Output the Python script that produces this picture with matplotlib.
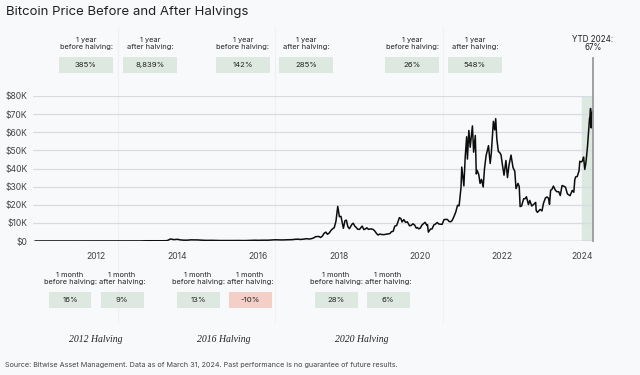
import numpy as np
import pandas as pd
import matplotlib
matplotlib.use("Agg")
import matplotlib.pyplot as plt
import matplotlib.dates as mdates
from matplotlib.patches import Rectangle

# ---- data (BTC price, USD) ----
early_dates = pd.date_range("2010-07-01", "2016-12-01", freq="MS")
early_prices = [
    0.07, 0.06, 0.06, 0.19, 0.21, 0.30,
    0.5, 0.9, 0.8, 3.5, 8.7, 16.1, 13.4, 8.2, 5.1, 3.2, 3.0, 4.7,
    5.5, 4.9, 4.9, 5.0, 5.2, 6.7, 9.0, 10.2, 12.4, 11.2, 12.6, 13.5,
    20, 33, 93, 139, 129, 97, 106, 135, 133, 204, 1130, 754,
    938, 580, 457, 448, 630, 640, 589, 478, 387, 338, 378, 320,
    217, 254, 244, 236, 230, 263, 284, 230, 236, 314, 377, 430,
    369, 437, 416, 448, 531, 673, 624, 575, 609, 700, 742, 964,
]

late_dates = [
    "2017-01-01", "2017-01-15", "2017-02-01", "2017-02-15", "2017-03-01", "2017-03-15",
    "2017-04-01", "2017-04-15", "2017-05-01", "2017-05-15", "2017-06-01", "2017-06-15",
    "2017-07-01", "2017-07-15", "2017-08-01", "2017-08-15", "2017-09-01", "2017-09-15",
    "2017-10-01", "2017-10-15", "2017-11-01", "2017-11-15", "2017-12-01", "2017-12-17",
    "2018-01-01", "2018-01-15", "2018-02-06", "2018-02-20", "2018-03-05", "2018-03-18",
    "2018-04-01", "2018-04-25", "2018-05-05", "2018-05-20", "2018-06-01", "2018-06-15",
    "2018-07-01", "2018-07-25", "2018-08-10", "2018-08-25", "2018-09-05", "2018-09-20",
    "2018-10-01", "2018-10-15", "2018-11-01", "2018-11-15", "2018-12-01", "2018-12-15",
    "2019-01-01", "2019-01-15", "2019-02-01", "2019-02-15", "2019-03-01", "2019-03-15",
    "2019-04-01", "2019-04-15", "2019-05-01", "2019-05-15", "2019-06-01", "2019-06-26",
    "2019-07-10", "2019-07-20", "2019-08-05", "2019-08-20", "2019-09-05", "2019-09-25",
    "2019-10-10", "2019-10-26", "2019-11-10", "2019-11-25", "2019-12-05", "2019-12-18",
    "2020-01-01", "2020-01-15", "2020-02-12", "2020-02-28", "2020-03-05", "2020-03-13",
    "2020-04-01", "2020-04-15", "2020-05-01", "2020-05-15", "2020-06-01", "2020-06-15",
    "2020-07-01", "2020-07-15", "2020-08-01", "2020-08-15", "2020-09-01", "2020-09-15",
    "2020-10-01", "2020-10-15", "2020-11-01", "2020-11-15", "2020-12-01", "2020-12-15",
    "2021-01-01", "2021-01-08", "2021-01-15", "2021-01-27", "2021-02-08", "2021-02-21",
    "2021-02-28", "2021-03-13", "2021-03-25", "2021-04-14", "2021-04-25", "2021-05-10",
    "2021-05-19", "2021-05-26", "2021-06-10", "2021-06-22", "2021-07-05", "2021-07-20",
    "2021-08-01", "2021-08-15", "2021-09-06", "2021-09-21", "2021-10-01", "2021-10-20",
    "2021-11-01", "2021-11-10", "2021-11-20", "2021-12-04", "2021-12-15", "2021-12-28",
    "2022-01-10", "2022-01-24", "2022-02-10", "2022-02-24", "2022-03-10", "2022-03-28",
    "2022-04-15", "2022-05-01", "2022-05-12", "2022-05-30", "2022-06-10", "2022-06-18",
    "2022-07-01", "2022-07-20", "2022-08-01", "2022-08-14", "2022-09-01", "2022-09-13",
    "2022-10-01", "2022-10-29", "2022-11-05", "2022-11-10", "2022-11-21", "2022-12-15",
    "2023-01-01", "2023-01-15", "2023-02-01", "2023-02-15", "2023-03-01", "2023-03-10",
    "2023-03-20", "2023-04-01", "2023-04-14", "2023-05-01", "2023-05-15", "2023-06-01",
    "2023-06-15", "2023-07-01", "2023-07-15", "2023-08-01", "2023-08-18", "2023-09-11",
    "2023-10-01", "2023-10-15", "2023-10-24", "2023-11-01", "2023-11-15", "2023-12-01",
    "2023-12-08", "2023-12-20", "2024-01-01", "2024-01-11", "2024-01-22", "2024-02-01",
    "2024-02-15", "2024-02-28", "2024-03-05", "2024-03-08", "2024-03-14", "2024-03-20",
    "2024-03-25", "2024-03-31",
]
late_prices = [
    1000, 820, 990, 1010, 1220, 1250,
    1080, 1180, 1420, 1750, 2400, 2450,
    2500, 1930, 2730, 4200, 4900, 3700,
    4400, 5700, 6750, 7300, 10900, 19100,
    13400, 13600, 7000, 11200, 11500, 7900,
    6800, 9300, 9800, 8200, 7500, 6500,
    6400, 8200, 6300, 6700, 7300, 6400,
    6600, 6700, 6350, 5600, 4200, 3300,
    3850, 3600, 3500, 3600, 3800, 3900,
    4100, 5100, 5350, 8200, 8550, 12900,
    12300, 10500, 11800, 10300, 10600, 8400,
    8600, 9500, 8800, 7100, 7400, 6700,
    7200, 8800, 10300, 8700, 9000, 4900,
    6600, 6650, 8850, 9300, 10200, 9400,
    9230, 9200, 11800, 11900, 11900, 10800,
    10600, 11500, 13800, 16000, 19700, 19400,
    29400, 40800, 36800, 30400, 46300, 57500,
    45200, 61000, 51700, 63500, 49000, 58200,
    37000, 39000, 36700, 31800, 34000, 29800,
    39900, 47000, 52600, 42800, 48200, 66000,
    61300, 67500, 56300, 49300, 48900, 47500,
    41800, 36300, 44400, 35000, 41900, 47400,
    40500, 38500, 28900, 31800, 30000, 19000,
    19300, 23300, 23300, 24400, 20100, 22400,
    19300, 20800, 21300, 16800, 15800, 17400,
    16600, 20900, 23700, 24300, 23600, 20200,
    28000, 28500, 30300, 28100, 27200, 27200,
    25100, 30600, 30300, 29700, 26000, 25000,
    27900, 26900, 33900, 35400, 35600, 38700,
    44000, 43600, 44200, 46300, 39500, 43100,
    51800, 62400, 67800, 68300, 73100, 62400,
    70000, 71300,
]

dates = list(early_dates) + list(pd.to_datetime(late_dates))
prices = np.array(early_prices + late_prices, dtype=float)

y_ticks = [0, 10000, 20000, 30000, 40000, 50000, 60000, 70000, 80000]
y_labels = ["$0", "$10K", "$20K", "$30K", "$40K", "$50K", "$60K", "$70K", "$80K"]

year_vals = ["385%", "8,839%", "142%", "285%", "26%", "548%"]
year_heads = ["1 year\nbefore halving:", "1 year\nafter halving:"] * 3
month_vals = ["16%", "9%", "13%", "-10%", "28%", "6%"]
month_heads = ["1 month\nbefore halving:", "1 month\nafter halving:"] * 3
halvings = ["2012 Halving", "2016 Halving", "2020 Halving"]

W, H = 640, 375
BG = "#f8f9fb"
GREEN = "#dde8e1"
RED = "#f3cfc7"
TXT = "#222222"
SANS = ["Inter", "DejaVu Sans"]


def fx(x):
    return x / W


def fy(y):
    return 1 - y / H


fig = plt.figure(figsize=(6.4, 3.75), dpi=100, facecolor=BG)

# faint separators behind everything
for sx in [118, 275, 443]:
    fig.add_artist(plt.Line2D([fx(sx), fx(sx)], [fy(28), fy(322)], color="#eef0f2", lw=0.8, zorder=0))

ax = fig.add_axes([fx(33), fy(241), fx(593) - fx(33), fy(96) - fy(241)])
ax.set_facecolor("none")

ax.axvspan(pd.Timestamp("2024-01-01"), pd.Timestamp("2024-03-31"), color="#dde8e1", zorder=1)
ax.plot(dates, prices, color="#0d0d0d", lw=1.1, zorder=3)

ax.set_xlim(pd.Timestamp("2010-06-10"), pd.Timestamp("2024-04-05"))
ax.set_ylim(0, 80000)
ax.set_yticks(y_ticks)
ax.set_yticklabels(y_labels)
ax.xaxis.set_major_locator(mdates.YearLocator(2))
ax.xaxis.set_major_formatter(mdates.DateFormatter("%Y"))
ax.grid(axis="y", color="#d8dbe0", lw=0.9, zorder=0)
ax.axhline(0, color="#b8bcc2", lw=1.0, zorder=2)
for s in ax.spines.values():
    s.set_visible(False)
ax.tick_params(length=0, labelsize=6.2, labelcolor="#444444", pad=4)
ax.tick_params(axis="x", pad=8)
for lab in ax.get_xticklabels() + ax.get_yticklabels():
    lab.set_family(SANS)

# YTD marker line sticking out above the plot
fig.add_artist(plt.Line2D([fx(593), fx(593)], [fy(58), fy(241)], color="#9a9a9a", lw=1.3, zorder=5))
fig.text(fx(593), fy(39), "YTD 2024:", ha="center", va="center", fontsize=5.8, color=TXT, family=SANS)
fig.text(fx(593), fy(48), "67%", ha="center", va="center", fontsize=5.8, color=TXT, family=SANS)

fig.text(fx(6), fy(12), "Bitcoin Price Before and After Halvings", ha="left", va="center",
         fontsize=9.5, color=TXT, family=SANS)


def box_row(centers, heads, vals, head_y, top, bot, bw, colors):
    for cx, hd, v, c in zip(centers, heads, vals, colors):
        fig.add_artist(Rectangle((fx(cx - bw / 2), fy(bot)), fx(bw), fy(top) - fy(bot),
                                 facecolor=c, edgecolor="none", transform=fig.transFigure))
        fig.text(fx(cx), fy(head_y), hd, ha="center", va="center", fontsize=5.3,
                 color=TXT, family=SANS, linespacing=1.25)
        fig.text(fx(cx), fy((top + bot) / 2), v, ha="center", va="center", fontsize=5.6,
                 color=TXT, family=SANS)


box_row([86, 150, 243, 306, 412, 475], year_heads, year_vals, 43.5, 57, 73, 54, [GREEN] * 6)
box_row([70, 122, 198, 250, 336, 388], month_heads, month_vals, 278.5, 292, 308, 43,
        [GREEN, GREEN, GREEN, RED, GREEN, GREEN])

for cx, t in zip([96, 224, 362], halvings):
    fig.text(fx(cx), fy(339), t, ha="center", va="center", fontsize=7, style="italic",
             color=TXT, family=["Liberation Serif", "DejaVu Serif"])

fig.text(fx(5), fy(365), "Source: Bitwise Asset Management. Data as of March 31, 2024. Past performance is no guarantee of future results.",
         ha="left", va="center", fontsize=5.2, color="#444444", family=SANS)

fig.savefig("out.png", dpi=100, facecolor=BG)
